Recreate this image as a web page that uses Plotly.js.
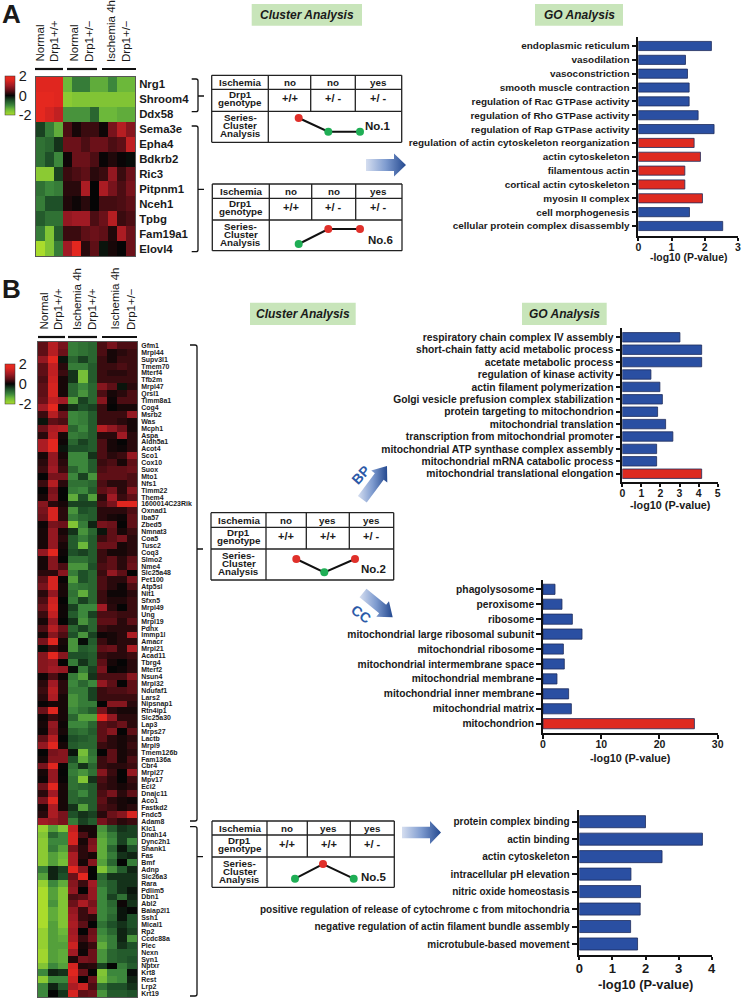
<!DOCTYPE html>
<html><head><meta charset="utf-8">
<script src="https://cdn.plot.ly/plotly-3.0.1.min.js"></script>
<style>html,body{margin:0;padding:0;background:#fff}#c{width:744px;height:998px}</style></head>
<body><div id="c"></div>
<script>
const genesA=["Nrg1","Shroom4","Ddx58","Sema3e","Epha4","Bdkrb2","Ric3","Pitpnm1","Nceh1","Tpbg","Fam19a1","Elovl4"];
const zA=[
[1.6,1.6,1.6,-1.4,-.9,-.9,-1.3,-1.3,-1,-1.4,-1.4],
[1.8,1.8,1.6,-1.7,-1.6,-1.6,-1.6,-1.6,-1.6,-1.6,-1.6],
[1.8,1.5,1.3,-1.1,-1.1,-1.1,-.7,-1.4,-1.4,-1.3,-1.3],
[-.4,-.9,-1.3,.4,.1,.3,.3,.05,.7,1.2,.8],
[-.8,-.7,-.3,.6,.6,.4,.6,.6,.4,.5,1.3],
[-.8,-.5,-1,.05,.6,.6,.4,.02,.15,.02,-.05],
[-1.7,-1.7,-.4,.3,.4,.5,.2,.3,.9,.3,.6],
[-.8,-1,-.9,.2,.2,1.1,0,1.1,.7,.4,.7],
[-.9,-.5,-.5,.15,.05,.2,0,.35,.35,.4,.5],
[-.6,-.8,-.8,.9,1,1,.4,.6,1.2,.3,.4],
[-.9,-1.6,-.6,.3,.3,.5,.6,.5,.15,1.1,.6],
[-2,-1.6,-.9,1,1.7,.2,.5,-.1,.1,0,.6]];
const genesB=["Gfm1","Mrpl44","Supv3l1","Tmem70","Mterf4","Tfb2m","Mrpl47","Qrsl1","Timm8a1","Cog4","Msrb2","Was","Mcph1","Aspa","Aldh5a1","Acot4","Sco1","Cox10","Suox","Mto1","Nfs1","Timm22","Them4","1600014C23Rik","Oxnad1","Iba57","Zbed5","Nmnat3","Coa5","Tusc2","Coq3","Slmo2","Nme4","Slc25a48","Pet100","Atp5sl","Nit1","Sfxn5","Mrpl49","Ung","Mrpl19","Pdhx","Immp1l","Amacr","Mrpl21","Acad11","Tbrg4","Mterf2","Nsun4","Mrpl32","Ndufaf1","Lars2","Nipsnap1","Rtn4ip1","Slc25a30","Lap3","Mrps27","Lactb","Mrpl9","Tmem126b","Fam136a","Cbr4","Mrpl27","Mpv17","Eci2","Dnajc11","Aco1","Fastkd2","Fndc5","Adam8","Klc1","Dnah14","Dync2h1","Shank1","Fas","Bmf","Adnp","Slc26a3","Rara","Pdlim5","Dbn1","Abl2","Baiap2l1","Ssh1","Mical1","Rp2","Ccdc88a","Plec","Nexn","Syn1","Nptxr","Krt8","Rest","Lrp2","Krt19"];
const zB=[
[.5,1.2,.7,-.9,-.8,-.7,.4,.7,.4,.4],[.5,1.2,.6,-.9,-.8,-.7,.4,.1,.2,.3],[.9,1.7,-.1,-.7,-.4,-.7,.3,.1,.3,.3],[.5,1.3,.2,-.9,-.9,-.6,.3,.3,.4,.3],[.5,1.3,.3,-.3,-1.5,-.6,.3,.2,.2,.3],
[.4,1.4,.1,-.3,-1.5,-.6,.3,.3,.3,.3],[.5,1.5,.1,-.7,-1,-.7,.8,.5,-.1,.2],[.5,1.5,.1,-.7,-1.1,-.7,.4,.1,.2,.4],[.6,1.3,1,-1.2,-.4,-.7,.8,.05,.4,.4],[1,1.8,.1,-.3,-.5,-.4,.3,0,.1,.1],
[.3,1.2,.6,-1,-.9,-.6,.3,.3,.3,.9],[-.1,.5,.4,-1,-.9,-.6,.3,.3,.2,.1],[.6,1.1,1.2,-.7,-1,-.6,1.2,.9,.6,.1],[.2,1.2,.1,-.9,-.8,-.6,.2,.2,1,.2],[1.1,1.7,.05,-.7,-.4,-.6,.4,.1,0,.2],
[1.1,1.7,-.1,-.5,-.5,-.6,.4,.1,.05,.2],[.1,.9,.1,-1,-1,-.3,.4,.2,.3,.9],[.2,.9,.2,-1,-1,-.6,.3,.4,.1,.5],[.3,1,.3,-.7,-1,-.6,.4,.5,.5,.6],[0,.7,.7,-1,-.4,-1.1,.5,.5,.5,.4],
[.3,1.2,.2,-.8,-.8,-.7,.4,.2,.2,.4],[0,.7,0,-.9,-1,-.6,.5,.7,.2,.8],[.1,.8,0,-1.3,-.5,-1.2,.2,1,.3,.5],[.8,.2,.1,-.4,-.4,-.4,.4,.7,1.6,1.6],[.7,1.5,.2,-1.1,-.5,-.6,.2,.2,.2,.4],
[.6,1.5,.2,-.9,-.7,-.6,.2,.1,.05,.5],[.05,.7,.6,-1.6,-.9,-.2,.7,.6,0,.5],[.1,.9,.1,-.3,-1.1,-.7,-.1,.5,.1,.3],[.1,.9,.2,-.6,-.9,-.6,.3,.5,.7,.2],[.1,.9,.1,-.6,-1.4,-.6,.6,.6,.1,.2],
[.9,1.7,.05,-.5,-.4,-.6,.3,.1,.1,.2],[.1,.8,0,-.8,-.8,-.6,.3,.5,.2,.5],[.1,.8,.4,-1.1,-1.1,-.5,.4,.5,.2,.6],[.2,.2,.8,-.9,-.5,-.7,.3,.9,.5,0],[.5,1.5,.02,-1.2,-.5,-.7,.4,.2,.2,.7],
[.7,1.5,.1,-.9,-.8,-.7,.4,.2,.05,.4],[.2,.9,.1,-.8,-1.3,-.7,.3,.05,.05,.2],[.4,1.4,0,-.9,-.4,-.7,.3,.15,.15,.3],[.6,1.5,.05,-.4,-1,-1,1,.2,0,.3],[.3,1.3,.05,-.6,-1,-.4,.4,.4,.3,.3],
[.1,.9,0,-.3,-1.1,-.7,.5,.5,.2,.5],[.4,1.2,.6,-.7,-.4,-.7,.3,.2,.2,.2],[.1,.8,.4,-.5,-1.1,-.4,.05,.1,.2,1.1],[.7,1.6,.1,-1.1,-.05,-.6,.3,.1,.2,.2],[-.05,.3,.05,-1.1,-.6,-.7,.5,.6,.2,1.1],
[.8,1.7,.8,-.5,-.5,-.6,.3,.2,.2,.3],[.8,.9,0,-.9,-.3,-.6,.5,.1,0,.2],[.8,1,.9,-.05,-.9,-.4,.7,0,.05,.2],[.05,.4,.05,-.9,-1.2,-.3,.4,.4,.4,.8],[.2,1,.2,-1,-.7,-1,.9,.5,0,.5],
[.3,1.2,.2,-.9,-.9,-.4,.3,.4,.4,.5],[.2,1.1,.1,-1.1,-.9,-.4,.3,.3,.3,.3],[.02,.1,.1,-1.1,-.9,-.9,0,.8,.8,.2],[.6,1.6,.1,-1,-.8,-.6,.7,.2,.1,.1],[.05,.3,.1,-.7,-1.2,-1.2,1.6,.9,.2,.2],
[.1,.9,.05,-1,-1,-.7,.5,.4,.6,.2],[.05,.8,.1,-.7,-.8,-.6,.5,.8,0,.5],[.5,1.2,0,-.5,-.6,-.7,.5,.2,.1,.2],[.9,1.6,.1,-.6,-.7,-.7,.3,.2,.1,.3],[0,.7,.8,-.1,-1.5,-.8,0,.5,.1,.2],
[.1,.8,.8,-.5,-1.3,-.9,.3,.5,.1,.4],[.7,1.6,.02,-.8,-.3,-.7,.3,.2,.2,.3],[.1,.9,0,-.9,-1.1,-.8,.8,.3,0,.9],[.05,.9,.02,-.8,-1.6,-.3,.4,.2,0,.3],[.6,1.6,.1,-.8,-.7,-.6,.3,.2,.1,.2],
[.2,1,.1,-.7,-1,-.6,.4,.7,.2,.5],[.7,1.7,.1,-.7,-.6,-.6,.5,.2,.1,.05],[.1,1.1,.1,-.3,-1.2,-.6,.4,.3,.1,.2],[.2,1.1,.7,-.5,-.3,-.4,.2,.6,.8,1.5],[1,.9,.7,-.9,-.4,-.6,.7,.4,.2,.3],
[-1.8,-1.2,-1.6,1.3,.1,.1,-1.1,-.6,-.3,-.4],[-1.6,-.7,-1,1.5,.4,.1,-1.2,-.9,-.4,-.4],[-1.7,-1,-1,1.5,.1,.7,-1.3,-1,-.4,-1],[-1.7,-.9,-1.2,.7,.2,.8,-1.3,-.7,-.1,-.5],[-1.7,-1.2,-1.4,1.1,.2,.1,-1.3,-.9,-.3,-.2],
[-1.7,-1.2,-1.5,1.1,.1,.8,-1.2,-.7,0,-.9],[-.9,-.2,-.4,1.7,.8,0,-1.6,-1.1,-.6,-.2],[-1.2,-.2,-.5,.6,1.7,0,-.7,-.3,-.3,-.3],[-1.8,-1,-1.3,.8,.3,1,-.8,-.6,-.3,-.3],[-2,-1.2,-1.6,.9,0,.9,-1,-.6,-.3,-.1],
[-2,-1.2,-1.6,.4,.5,.9,-1,-.4,-.8,-.2],[-2,-1.1,-1.6,.6,1.1,.7,-1,-.7,.05,-.3],[-2,-1.3,-1.6,.9,.3,.9,-1,-.8,-.1,0],[-2,-1.3,-1.6,1,.3,.2,-1,-.7,-.1,-.5],[-2,-1.2,-1.6,1.1,.5,0,-.8,-.5,-.3,-.5],
[-1.8,-1.2,-1.4,1,0,.6,-1,-.7,-.2,-.4],[-1.8,-1.2,-1.3,1.1,.3,.7,-1.1,-.9,-.2,-1.1],[-1.8,-1.2,-1.2,1.4,.1,.3,-1.3,-.9,-.3,-.5],[-1.9,-1.2,-1.3,1,.05,.6,-1.1,-.7,-.6,-.6],[-1.9,-1.2,-1.3,.15,.7,.6,-1.1,-.7,-.6,-.5],
[-1.6,-1,-1.2,1.5,.15,.2,-.4,0,-.9,-.6],[-1,-.2,-.3,1.6,.6,0,-1.6,-1,-1,-.05],[-1.7,-1,-1,1.4,0,.6,-1.5,-1.1,-1,-.2],[-1,-.2,-.6,1.1,1.4,.4,-.8,-.5,-.5,-.3],[-1,0,-.3,1.5,.5,.6,-1.1,-.6,-.6,-.5]];

const goA=["endoplasmic reticulum","vasodilation","vasoconstriction","smooth muscle contraction","regulation of Rac GTPase activity","regulation of Rho GTPase activity","regulation of Rap GTPase activity","regulation of actin cytoskeleton reorganization","actin cytoskeleton","filamentous actin","cortical actin cytoskeleton","myosin II complex","cell morphogenesis","cellular protein complex disassembly"];
const valA=[2.2,1.42,1.48,1.53,1.53,1.8,2.28,1.68,1.87,1.4,1.4,1.93,1.54,2.54];
const redA=["regulation of actin cytoskeleton reorganization","actin cytoskeleton","filamentous actin","cortical actin cytoskeleton","myosin II complex"];
const goBP=["respiratory chain complex IV assembly","short-chain fatty acid metabolic process","acetate metabolic process","regulation of kinase activity","actin filament polymerization","Golgi vesicle prefusion complex stabilization","protein targeting to mitochondrion","mitochondrial translation","transcription from mitochondrial promoter","mitochondrial ATP synthase complex assembly","mitochondrial mRNA catabolic process","mitochondrial translational elongation"];
const valBP=[3.02,4.16,4.16,1.5,1.97,2.1,1.85,2.27,2.65,1.8,1.8,4.16];
const redBP=["mitochondrial translational elongation"];
const goCC=["phagolysosome","peroxisome","ribosome","mitochondrial large ribosomal subunit","mitochondrial ribosome","mitochondrial intermembrane space","mitochondrial membrane","mitochondrial inner membrane","mitochondrial matrix","mitochondrion"];
const valCC=[2.06,3.26,5.04,6.7,3.5,3.66,2.4,4.4,4.87,26];
const redCC=["mitochondrion"];
const goN5=["protein complex binding","actin binding","actin cytoskeleton","intracellular pH elevation","nitric oxide homeostasis","positive regulation of release of cytochrome c from mitochondria","negative regulation of actin filament bundle assembly","microtubule-based movement"];
const valN5=[2,3.72,2.5,1.56,1.85,1.84,1.55,1.76];

const FONT="Liberation Sans, Arial, sans-serif", INK="#1a1a1a", BLUE="#2a4fa2", RED="#de2a20", GREEN="#1fae55", MRED="#e0302a";
const W=744,H=998;
const dx=(a,b)=>[a/W,b/W], dy=(a,b)=>[1-b/H,1-a/H];
const colorscale=[[0,'#aadc2c'],[.15,'#6cb83a'],[.25,'#3c873c'],[.375,'#1e5028'],[.5,'#050505'],[.625,'#5e0f16'],[.75,'#a01a24'],[.9,'#e0261f'],[1,'#ea2a1e']];

const traces=[],layout={width:W,height:H,margin:{l:0,r:0,t:0,b:0},paper_bgcolor:'#fff',plot_bgcolor:'rgba(0,0,0,0)',showlegend:false,hovermode:false,font:{family:FONT,color:INK},shapes:[],annotations:[]};

function heat(n,z,genes,box,cbY,fs,pad){
  const xk=n===1?'x':'x'+n, yk=n===1?'y':'y'+n;
  traces.push({type:'heatmap',z,y:genes.map((g,i)=>i),x:z[0].map((_,i)=>i),xaxis:xk,yaxis:yk,zmin:-2,zmax:2,colorscale,xgap:0,ygap:0,
    colorbar:{x:5/W,xanchor:'left',y:1-cbY[1]/H,yanchor:'bottom',len:(cbY[1]-cbY[0]),lenmode:'pixels',thickness:10,thicknessmode:'pixels',xpad:0,ypad:0,
      outlinewidth:.5,outlinecolor:'#333',tickmode:'array',tickvals:[-2,0,2],ticktext:['-2','0','2'],ticks:'',ticklabelposition:'outside',tickfont:{size:14.5,family:FONT,color:INK}}});
  layout[n===1?'xaxis':'xaxis'+n]={domain:dx(box[0],box[1]),anchor:yk,range:[-.5,z[0].length-.5],showticklabels:false,ticks:'',showgrid:false,zeroline:false,showline:true,mirror:true,linecolor:'#555',linewidth:.7};
  layout[n===1?'yaxis':'yaxis'+n]={domain:dy(box[2],box[3]),anchor:xk,side:'right',range:[genes.length-.5,-.5],tickmode:'array',tickvals:genes.map((g,i)=>i),ticktext:genes,ticks:'outside',ticklen:pad,tickcolor:'rgba(0,0,0,0)',ticklabeloverflow:'allow',tickfont:{size:fs,family:FONT,color:INK,weight:700},showgrid:false,zeroline:false,showline:true,mirror:true,linecolor:'#555',linewidth:.7};
}
heat(1,zA,genesA,[36,135,77,256],[76,115],11.4,1);
heat(2,zB,genesB,[38,137,342,997],[364,404],6.95,2);

function bars(n,cats,vals,reds,xmax,dt,box,rows,opt){
  const xk='x'+n,yk='y'+n;
  traces.push({type:'bar',orientation:'h',x:vals,y:cats,xaxis:xk,yaxis:yk,width:opt.bw,
    marker:{color:cats.map(c=>reds.includes(c)?RED:BLUE),line:{color:'#1e2c5c',width:.8}}});
  const [x0,x1,y0,y1]=box, step=(rows[1]-rows[0])/(cats.length-1);
  layout['xaxis'+n]={domain:dx(x0,x1),anchor:yk,range:[0,xmax],dtick:dt,tick0:0,ticks:'outside',ticklen:opt.tl,ticklabelstandoff:-3,tickwidth:opt.lw,linewidth:opt.lw,linecolor:'#111',tickcolor:'#111',showline:true,showgrid:false,zeroline:false,automargin:false,
    tickfont:{size:opt.tf,family:FONT,color:INK,weight:700}};
  layout['yaxis'+n]={domain:dy(y0,y1),anchor:xk,type:'category',categoryorder:'array',categoryarray:cats,range:[(cats.length-1)+(y1-rows[1])/step,-(rows[0]-y0)/step],ticks:'outside',ticklen:opt.yl,tickwidth:opt.lw,linewidth:opt.lw,linecolor:'#111',tickcolor:'#111',showline:true,showgrid:false,zeroline:false,automargin:false,tickmode:'array',tickvals:cats,ticktext:cats,
    tickfont:{size:opt.cf,family:FONT,color:INK,weight:700}};
}
bars(3,goA,valA,redA,3,1,[638.3,738,37,236],[46,226],{bw:.66,tl:3.5,lw:1.6,tf:10.5,cf:9.95,yl:5});
bars(4,goBP,valBP,redBP,5,1,[622.3,717.7,328,481.7],[337.3,473.7],{bw:.76,tl:3.5,lw:1.6,tf:10.5,cf:10.3,yl:5});
bars(5,goCC,valCC,redCC,30,10,[543,717.7,580,733.3],[589.3,723.7],{bw:.68,tl:3.5,lw:1.6,tf:10.5,cf:10.25,yl:5});
bars(6,goN5,valN5,[],4,1,[579.3,711.7,810,955],[821.7,944],{bw:.69,tl:3.5,lw:1.6,tf:13,cf:10,yl:6});

// page-pixel overlay axes
layout.xaxis7={domain:[0,1],range:[0,W],visible:false,fixedrange:true,anchor:'y7'};
layout.yaxis7={domain:[0,1],range:[H,0],visible:false,fixedrange:true,anchor:'x7'};
const T=(text,x,y,o={})=>layout.annotations.push(Object.assign({xref:'x7',yref:'y7',x,y,text,showarrow:false,xanchor:'center',yanchor:'middle',font:{family:FONT,size:o.s||10,color:o.c||INK,weight:o.w===undefined?700:o.w,style:o.i?'italic':'normal'}},o.a!==undefined?{textangle:o.a}:{},o.xa?{xanchor:o.xa}:{},o.ya?{yanchor:o.ya}:{}));
const L=(x0,y0,x1,y1,w=1.3,c='#222')=>layout.shapes.push({type:'line',xref:'x7',yref:'y7',x0,y0,x1,y1,line:{color:c,width:w}});

const xTitle='-log10 (P-value)';
T(xTitle,688,257,{s:10.4});T(xTitle,670,505,{s:10.8});T(xTitle,630,758,{s:10.8});T(xTitle,645.5,984,{s:12.8});

T('A',11.5,13.5,{s:26});T('B',11.5,289,{s:26});
[[251.7,362,4,25.7,'Cluster Analysis'],[535,623,4,25.7,'GO Analysis'],[250,355.7,302.7,325,'Cluster Analysis'],[522,606.7,302.7,325,'GO Analysis']].forEach(b=>{
  layout.shapes.push({type:'rect',xref:'x7',yref:'y7',x0:b[0],x1:b[1],y0:b[2],y1:b[3],fillcolor:'#c8e5ba',line:{width:0},layer:'below'});
  T(b[4],(b[0]+b[1])/2,(b[2]+b[3])/2,{s:12,i:true});
});
// column headers
const headA=[['Normal',39],['Drp1+/+',54],['Normal',73],['Drp1+/−',89],['Ischemia 4h',111],['Drp1+/−',126]];
headA.forEach(h=>T(h[0],h[1],64,{s:11.5,w:400,a:-90,ya:'bottom'}));
[[35,63],[67,97],[102,136]].forEach(s=>L(s[0],69,s[1],69,2.2,'#111'));
const headB=[['Normal',43],['Drp1+/+',58],['Ischemia 4h',77],['Drp1+/+',92],['Ischemia 4h',114.5],['Drp1+/−',131]];
headB.forEach(h=>T(h[0],h[1],332,{s:11.5,w:400,a:-90,ya:'bottom'}));
[[38,65],[68,97],[102,137]].forEach(s=>L(s[0],337,s[1],337,2.2,'#111'));
// brackets
const bracket=(x0,x1,xt,y0,y1,ym)=>{layout.shapes.push({type:'path',xref:'x7',yref:'y7',path:`M${x0},${y0} L${x1-2},${y0} Q${x1},${y0} ${x1},${y0+2} L${x1},${y1-2} Q${x1},${y1} ${x1-2},${y1} L${x0},${y1} M${x1},${ym} L${xt},${ym}`,line:{color:'#111',width:1.3}});};
bracket(191.7,198,204,79,111.7,96);
bracket(191.7,198,204,126,251.7,189.3);
bracket(190,197,203,345,821,549);
bracket(190,197,203,826.7,996,856.7);

// cluster tables: levels are the cluster pattern (1 high, 0 low)
const rowCond=[['no','no','yes'],['no','no','yes'],['no','yes','yes'],['no','yes','yes']];
const rowGeno=[['+/+','+/ -','+/ -'],['+/+','+/ -','+/ -'],['+/+','+/+','+/ -'],['+/+','+/+','+/ -']];
const clusterLevels=[[1,0,0],[0,1,1],[1,0,1],[0,1,0]];
const clusterNames=['No.1','No.6','No.2','No.5'];
const tableGeom=[
 {x:[211.7,268.3,310.7,355.3,401.7],y:[75.3,89.3,111.3,142.3],mx:[298.7,328.3,360],my:[131.7,118],no:[378,126]},
 {x:[212.3,269.3,311.7,355.7,402],y:[184,198.3,220,250.7],mx:[298.7,328.3,360],my:[244,229],no:[380.7,240]},
 {x:[211,266,306.3,349.3,393.7],y:[512.7,527.3,549,580],mx:[296.3,324.3,355],my:[572.3,559],no:[373,568.7]},
 {x:[212,267,307.3,350.3,394.3],y:[821,835,857,887.3],mx:[295,323,353.7],my:[878.7,864],no:[374,877.3]}];
tableGeom.forEach((g,k)=>{
  const [a,b,c,d,e]=g.x,[t,r1,r2,bt]=g.y;
  [t,r1,r2,bt].forEach(y=>L(a,y,e,y));
  [a,b,e].forEach(x=>L(x,t,x,bt));
  [c,d].forEach(x=>L(x,t,x,r2));
  const cx=(a+b)/2;
  T('Ischemia',cx,(t+r1)/2,{s:9.8});
  T('Drp1',cx,r1+5,{s:9.8});T('genotype',cx,r1+13.5,{s:9.8});
  T('Series-',cx,r2+6.5,{s:9.8});T('Cluster',cx,r2+14,{s:9.8});T('Analysis',cx,r2+22,{s:9.8});
  const cols=[(b+c)/2,(c+d)/2,(d+e)/2];
  cols.forEach((x,i)=>{T(rowCond[k][i],x,(t+r1)/2,{s:9.8});T(rowGeno[k][i],x,r1+8.5,{s:11});});
  traces.push({type:'scatter',mode:'lines+markers',xaxis:'x7',yaxis:'y7',x:g.mx,y:clusterLevels[k].map(v=>g.my[v]),line:{color:'#111',width:2},
    marker:{size:8,color:clusterLevels[k].map(v=>v?MRED:GREEN)}});
  T(clusterNames[k],g.no[0],g.no[1],{s:11.5});
});

// gradient arrows
function arrow(tx,ty,px,py,hs,hh,hl){
  const len=Math.hypot(px-tx,py-ty),ux=(px-tx)/len,uy=(py-ty)/len,nx=-uy,ny=ux,bx=px-ux*hl,by=py-uy*hl;
  const pts=[[tx+nx*hs,ty+ny*hs],[bx+nx*hs,by+ny*hs],[bx+nx*hh,by+ny*hh],[px,py],[bx-nx*hh,by-ny*hh],[bx-nx*hs,by-ny*hs],[tx-nx*hs,ty-ny*hs]];
  traces.push({type:'scatter',mode:'lines',xaxis:'x7',yaxis:'y7',x:pts.map(p=>p[0]).concat(pts[0][0]),y:pts.map(p=>p[1]).concat(pts[0][1]),fill:'toself',line:{width:0,color:'rgba(0,0,0,0)'},
    fillgradient:{type:'horizontal',colorscale:[[0,'#d5def0'],[.5,'#7e9bcf'],[1,'#23488f']]}});
}
arrow(366,165,406,165,6,11.5,12);
arrow(362.3,499.3,387,466,5.5,10,13);
arrow(363,593,392.7,617.3,5.5,10,13);
arrow(402,832.5,441,832.5,5.8,11.5,11);
T('BP',360.7,475,{s:14,a:-48,c:'#2c5aa8'});
T('CC',361,614,{s:14,a:35,c:'#2c5aa8'});

Plotly.newPlot('c',traces,layout,{displayModeBar:false,responsive:false});
</script></body></html>
